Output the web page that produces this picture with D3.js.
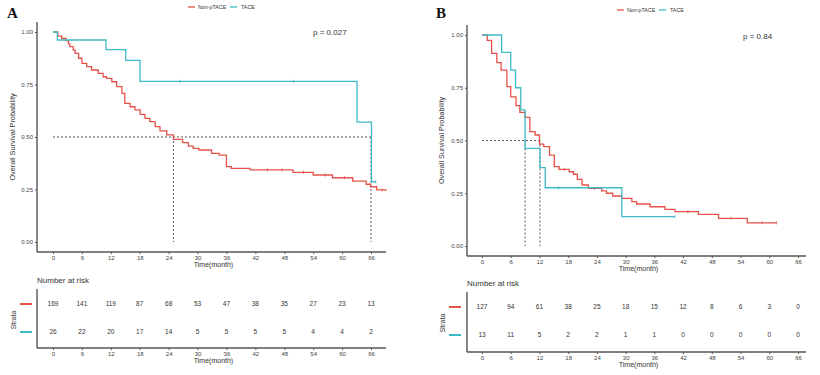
<!DOCTYPE html>
<html><head><meta charset="utf-8">
<script src="https://cdn.jsdelivr.net/npm/d3@7"></script>
<style>body{margin:0;background:#fff}svg{display:block}text{font-family:"Liberation Sans",Arial,sans-serif}</style>
</head><body><svg id="c" width="820" height="375"></svg>
<script>
const timeTicks=[0,6,12,18,24,30,36,42,48,54,60,66];
const survTicks=[0,0.25,0.5,0.75,1];
const groups=["Non-pTACE","TACE"];
const groupColors=["#E5524A","#3FBAC6"];

// Panel A
const aNonT=[0,1.0,1.8,2.7,3.2,3.5,4.2,4.6,5.3,6.0,7.0,8.0,9.4,10.4,11.1,12.2,13.2,14.3,14.9,16.0,17.0,18.1,19.1,20.1,21.2,22.2,23.6,25.0,26.9,28.1,29.1,30.3,32.9,34.5,36.0,37.0,40.9,49.8,54.0,58.0,62.2,65.0,65.9,67.2,69.3];
const aNonS=[1,0.98,0.97,0.959,0.943,0.93,0.914,0.898,0.875,0.851,0.835,0.819,0.803,0.787,0.779,0.763,0.74,0.708,0.66,0.644,0.629,0.608,0.589,0.573,0.549,0.529,0.51,0.489,0.473,0.457,0.446,0.438,0.422,0.414,0.359,0.351,0.343,0.332,0.319,0.306,0.29,0.275,0.263,0.248,0.248];
const aTaceT=[0,0.9,11.0,15.1,18.05,63.1,66.1,67.0];
const aTaceS=[1,0.962,0.916,0.865,0.765,0.571,0.287,0.287];
const aNonCens=[44.5,47.5,52,56.5,60.5,68.3];
const aTaceCens=[26.4,49.9,67.0];
const aRiskNon=[169,141,119,87,68,53,47,38,35,27,23,13];
const aRiskTace=[26,22,20,17,14,5,5,5,5,4,4,2];
const aMedians=[25.0,66.0];
const aP="p = 0.027";

// Panel B
const bNonT=[0,1.1,2.0,3.1,4.0,5.2,6.0,7.1,7.9,9.0,10.0,11.1,12.0,12.9,14.1,15.1,16.1,18.2,19.1,19.9,20.9,22.2,25.0,26.0,27.3,29.2,31.3,32.3,35.1,38.2,40.3,45.2,49.4,55.4,61.5];
const bNonS=[1,0.975,0.913,0.869,0.834,0.755,0.707,0.665,0.633,0.61,0.542,0.526,0.483,0.471,0.431,0.376,0.363,0.352,0.34,0.316,0.289,0.273,0.261,0.25,0.237,0.226,0.21,0.199,0.186,0.174,0.163,0.15,0.131,0.11,0.11];
const bTaceT=[0,4.1,6.0,7.0,8.1,9.0,12.1,13.2,29.2,40.3];
const bTaceS=[1,0.918,0.834,0.75,0.645,0.463,0.371,0.276,0.139,0.139];
const bNonCens=[17.2,23.5,43,52,58.5,61.5];
const bTaceCens=[16,40.3];
const bRiskNon=[127,94,61,38,25,18,15,12,8,6,3,0];
const bRiskTace=[13,11,5,2,2,1,1,0,0,0,0,0];
const bMedians=[9.0,12.1];
const bP="p = 0.84";

const svg=d3.select("#c");
const axisCol="#555", txtCol="#333";

function panel(o){
  const g=svg.append("g");
  const x=d3.scaleLinear().domain([0,66]).range([o.x0,o.x66]);
  const y=d3.scaleLinear().domain([0,1]).range([o.y0,o.y1]);
  // panel letter
  g.append("text").attr("x",o.lx).attr("y",18).text(o.letter)
    .style("font-family","'Liberation Serif','DejaVu Serif',serif").style("font-weight","bold").attr("font-size",15).attr("fill","#111");
  // legend
  const lg=g.append("g").attr("transform",`translate(${o.legX},${o.legY})`);
  lg.append("line").attr("x1",0).attr("x2",7).attr("y1",0).attr("y2",0).attr("stroke",groupColors[0]).attr("stroke-width",1.3);
  lg.append("text").attr("x",10).attr("y",1.8).text(groups[0]).attr("font-size",5.3).attr("fill",txtCol);
  lg.append("line").attr("x1",42).attr("x2",49).attr("y1",0).attr("y2",0).attr("stroke",groupColors[1]).attr("stroke-width",1.3);
  lg.append("text").attr("x",53).attr("y",1.8).text(groups[1]).attr("font-size",5.3).attr("fill",txtCol);
  // axes
  const ax=g.append("g").attr("transform",`translate(0,${o.xAxisY})`)
    .call(d3.axisBottom(x).tickValues(timeTicks).tickSize(2).tickPadding(2));
  ax.select(".domain").attr("d",`M${o.axL},0H${o.axR}`);
  const ay=g.append("g").attr("transform",`translate(${o.axL},0)`)
    .call(d3.axisLeft(y).tickValues(survTicks).tickFormat(d3.format(".2f")).tickSize(2).tickPadding(2));
  ay.select(".domain").attr("d",`M0,${o.yTop}V${o.xAxisY}`);
  [ax,ay].forEach(a=>{a.selectAll("text").attr("font-size",6).attr("fill","#444");
    a.select(".domain").attr("stroke",axisCol).attr("stroke-width",1.4);
    a.selectAll(".tick line").attr("stroke",axisCol);});
  g.append("text").attr("x",(o.axL+o.axR)/2+2).attr("y",o.xAxisY+15).attr("text-anchor","middle").text("Time(month)").attr("font-size",7).attr("fill",txtCol);
  g.append("text").attr("transform",`translate(${o.ylabX},${(o.y0+o.y1)/2}) rotate(-90)`).attr("text-anchor","middle")
    .text("Overall Survival Probability").attr("font-size",7.3).attr("fill",txtCol);
  // median lines
  const dash="2,2";
  g.append("line").attr("x1",x(0)).attr("x2",x(d3.max(o.medians))).attr("y1",y(0.5)).attr("y2",y(0.5))
    .attr("stroke","#444").attr("stroke-dasharray",dash).attr("stroke-width",0.9);
  o.medians.forEach(m=>g.append("line").attr("x1",x(m)).attr("x2",x(m)).attr("y1",y(0.5)).attr("y2",y(0))
    .attr("stroke","#444").attr("stroke-dasharray",dash).attr("stroke-width",0.9));
  // curves
  const line=d3.line().x(d=>x(d[0])).y(d=>y(d[1])).curve(d3.curveStepAfter);
  const curves=[[o.nonT,o.nonS,o.nonC],[o.taceT,o.taceS,o.taceC]];
  curves.forEach((c,i)=>{
    const pts=c[0].map((t,j)=>[t,c[1][j]]);
    g.append("path").attr("d",line(pts)).attr("fill","none").attr("stroke",groupColors[i]).attr("stroke-width",1.3);
    const surv=t=>{let s=1;for(let j=0;j<c[0].length;j++){if(c[0][j]<=t)s=c[1][j];}return s;};
    c[2].forEach(t=>g.append("line").attr("x1",x(t)).attr("x2",x(t)).attr("y1",y(surv(t))-1.6).attr("y2",y(surv(t))+1.6)
      .attr("stroke",groupColors[i]).attr("stroke-width",0.8));
  });
  // p value
  g.append("text").attr("x",o.pX).attr("y",o.pY).text(o.p).attr("font-size",8).attr("fill",txtCol);
  // risk table
  g.append("text").attr("x",o.axL).attr("y",o.rtTitleY).text("Number at risk").attr("font-size",8).attr("fill",txtCol);
  const rx=g.append("g").attr("transform",`translate(0,${o.rtAxisY})`)
    .call(d3.axisBottom(x).tickValues(timeTicks).tickSize(2).tickPadding(2));
  rx.select(".domain").attr("d",`M${o.axL},0H${o.axR}`).attr("stroke",axisCol).attr("stroke-width",1.4);
  rx.selectAll("text").attr("font-size",6).attr("fill","#444");
  rx.selectAll(".tick line").attr("stroke",axisCol);
  g.append("line").attr("x1",o.axL).attr("x2",o.axL).attr("y1",o.rtTop).attr("y2",o.rtAxisY).attr("stroke",axisCol).attr("stroke-width",1.4);
  g.append("text").attr("x",(o.axL+o.axR)/2+2).attr("y",o.rtAxisY+15).attr("text-anchor","middle").text("Time(month)").attr("font-size",7).attr("fill",txtCol);
  g.append("text").attr("transform",`translate(${o.strataX},${(o.rtRows[0]+o.rtRows[1])/2}) rotate(-90)`).attr("text-anchor","middle")
    .text("Strata").attr("font-size",7).attr("fill",txtCol);
  [o.riskNon,o.riskTace].forEach((r,i)=>{
    g.append("line").attr("x1",o.segX).attr("x2",o.segX+12).attr("y1",o.rtRows[i]-2).attr("y2",o.rtRows[i]-2)
      .attr("stroke",groupColors[i]).attr("stroke-width",2);
    g.selectAll(null).data(r).enter().append("text").attr("x",(d,j)=>x(timeTicks[j])).attr("y",o.rtRows[i])
      .attr("text-anchor","middle").text(d=>d).attr("font-size",6.5).attr("fill","#333");
  });
}

panel({letter:"A",lx:7,legX:188,legY:7,x0:53,x66:371,y0:242,y1:32,axL:37,axR:386,yTop:22,xAxisY:252,ylabX:15,
  medians:aMedians,nonT:aNonT,nonS:aNonS,nonC:aNonCens,taceT:aTaceT,taceS:aTaceS,taceC:aTaceCens,p:aP,pX:313,pY:35,
  rtTitleY:283,rtAxisY:348,rtTop:289,rtRows:[306,334],strataX:16,segX:20,riskNon:aRiskNon,riskTace:aRiskTace});
panel({letter:"B",lx:436,legX:617,legY:10,x0:482,x66:798,y0:246,y1:35,axL:467,axR:806,yTop:25,xAxisY:256,ylabX:444,
  medians:bMedians,nonT:bNonT,nonS:bNonS,nonC:bNonCens,taceT:bTaceT,taceS:bTaceS,taceC:bTaceCens,p:bP,pX:743,pY:39,
  rtTitleY:286,rtAxisY:352,rtTop:292,rtRows:[309,337],strataX:445,segX:449,riskNon:bRiskNon,riskTace:bRiskTace});
</script></body></html>
